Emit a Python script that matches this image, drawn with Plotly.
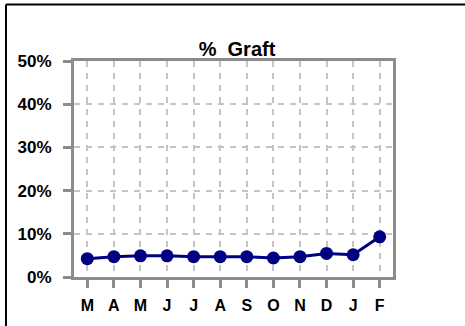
import plotly.graph_objects as go

# Monthly graft rate (%)
months = ["M", "A", "M", "J", "J", "A", "S", "O", "N", "D", "J", "F"]
graft_pct = [4.25, 4.7, 4.9, 4.9, 4.7, 4.7, 4.7, 4.4, 4.7, 5.45, 5.15, 9.3]
y_ticks = [0, 10, 20, 30, 40, 50]
y_labels = ["0%", "10%", "20%", "30%", "40%", "50%"]

W, H = 465, 326
L, R, T, B = 74, 72, 61, 45
pw, ph = W - L - R, H - T - B

def px_x(x):
    return (x - L) / pw

def px_y(y):
    return (H - B - y) / ph

idx = list(range(len(months)))
font = "Liberation Sans, Arial, sans-serif"

fig = go.Figure()
fig.add_trace(go.Scatter(
    x=idx, y=graft_pct, mode="lines+markers",
    line=dict(color="#000080", width=3),
    marker=dict(color="#000080", size=13),
    cliponaxis=False, showlegend=False,
))

fig.update_layout(
    width=W, height=H,
    margin=dict(l=L, r=R, t=T, b=B),
    paper_bgcolor="white", plot_bgcolor="white",
    title=dict(text="<b>%  Graft</b>", x=237 / W, xref="container", xanchor="center",
               y=1 - 49 / H, yref="container", yanchor="middle",
               font=dict(family=font, size=20, color="black")),
    xaxis=dict(
        range=[-0.5, 11.5], tickmode="array", tickvals=idx,
        ticktext=["<b>%s</b>" % m for m in months],
        showgrid=True, gridcolor="#c4c4c4", griddash="6px,6px", gridwidth=1.5,
        showline=True, linecolor="#8c8c8c", linewidth=3, mirror=True,
        ticks="outside", ticklen=8, tickwidth=3, tickcolor="#8c8c8c",
        ticklabelstandoff=4,
        tickfont=dict(family=font, size=16, color="black"),
        zeroline=False, fixedrange=True,
    ),
    yaxis=dict(
        range=[0, 50], tickmode="array", tickvals=y_ticks,
        ticktext=["<b>%s</b>" % t for t in y_labels],
        showgrid=True, gridcolor="#c4c4c4", griddash="6px,6px", gridwidth=1.5,
        showline=True, linecolor="#8c8c8c", linewidth=3, mirror=True,
        ticks="outside", ticklen=8, tickwidth=3, tickcolor="#8c8c8c",
        ticklabelstandoff=8,
        tickfont=dict(family=font, size=17, color="black"),
        zeroline=False, fixedrange=True,
    ),
)

# Outer frame around the chart area
fig.add_shape(type="line", xref="paper", yref="paper",
              x0=px_x(6), x1=px_x(470), y0=px_y(3.5), y1=px_y(3.5),
              line=dict(color="black", width=2))
fig.add_shape(type="line", xref="paper", yref="paper",
              x0=px_x(6), x1=px_x(6), y0=px_y(3.5), y1=px_y(340),
              line=dict(color="black", width=2))

fig.write_html("out.html")
